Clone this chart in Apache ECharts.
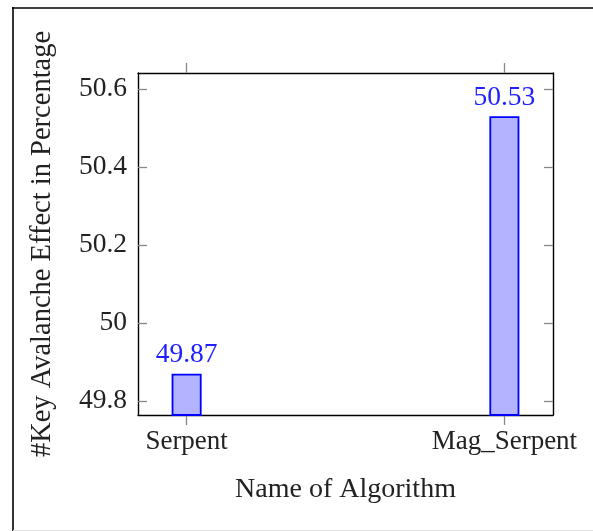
<!DOCTYPE html>
<html>
<head>
<meta charset="utf-8">
<script src="https://cdn.jsdelivr.net/npm/echarts@6/dist/echarts.min.js"></script>
<style>
html,body{margin:0;padding:0;background:#fff;}
#chart{width:593px;height:531px;}
</style>
</head>
<body>
<div id="chart"></div>
<script>
const categories = ['Serpent', 'Mag_Serpent'];
const values = [49.87, 50.53];
const yTicks = [49.8, 50, 50.2, 50.4, 50.6];
const xPositions = [0, 1];

const FONT = 'Liberation Serif';
const chart = echarts.init(document.getElementById('chart'), null, {renderer: 'canvas'});

const xMin = -0.153, xMax = 1.153;
const yMin = 49.764, yMax = 50.641;

const option = {
  backgroundColor: '#fff',
  animation: false,
  graphic: [
    {type: 'line', shape: {x1: 13, y1: 7, x2: 13, y2: 531}, style: {stroke: '#000', lineWidth: 1.6}},
    {type: 'line', shape: {x1: 12, y1: 8, x2: 593, y2: 8}, style: {stroke: '#000', lineWidth: 1.6}},
    {type: 'line', shape: {x1: 13, y1: 530.5, x2: 593, y2: 530.5}, style: {stroke: '#ddd', lineWidth: 1}}
  ],
  grid: {left: 138, top: 73, right: 40, bottom: 116, containLabel: false, outerBoundsMode: 'none'},
  xAxis: [
    {
      type: 'value', position: 'bottom', min: xMin, max: xMax,
      name: 'Name of Algorithm', nameLocation: 'middle', nameGap: 61,
      nameTextStyle: {fontFamily: FONT, fontSize: 28, color: '#222'},
      axisLine: {show: true, onZero: false, lineStyle: {color: '#000', width: 1.4}},
      axisTick: {show: true, inside: false, length: 10, customValues: xPositions, lineStyle: {color: '#888', width: 1.3}},
      axisLabel: {show: true, customValues: xPositions, margin: 13, fontFamily: FONT, fontSize: 27, color: '#222',
        formatter: function (v) { const i = xPositions.indexOf(v); return i >= 0 ? categories[i] : ''; }},
      splitLine: {show: false}
    },
    {
      type: 'value', position: 'top', min: xMin, max: xMax,
      axisLine: {show: true, onZero: false, lineStyle: {color: '#000', width: 1.4}},
      axisTick: {show: true, inside: false, length: 10, customValues: xPositions, lineStyle: {color: '#888', width: 1.3}},
      axisLabel: {show: false},
      splitLine: {show: false}
    }
  ],
  yAxis: [
    {
      type: 'value', position: 'left', min: yMin, max: yMax,
      name: '#Key Avalanche Effect in Percentage', nameLocation: 'middle', nameGap: 81, nameRotate: 90,
      nameTextStyle: {fontFamily: FONT, fontSize: 28.5, color: '#222'},
      axisLine: {show: true, onZero: false, lineStyle: {color: '#000', width: 1.4}},
      axisTick: {show: true, inside: true, length: 9, customValues: yTicks, lineStyle: {color: '#888', width: 1.3}},
      axisLabel: {show: true, customValues: yTicks, margin: 11, fontFamily: FONT, fontSize: 27.5, color: '#222',
        formatter: function (v) { return String(Math.round(v * 10) / 10); }},
      splitLine: {show: false}
    },
    {
      type: 'value', position: 'right', min: yMin, max: yMax,
      axisLine: {show: true, onZero: false, lineStyle: {color: '#000', width: 1.4}},
      axisTick: {show: true, inside: true, length: 9, customValues: yTicks, lineStyle: {color: '#888', width: 1.3}},
      axisLabel: {show: false},
      splitLine: {show: false}
    }
  ],
  series: [
    {
      type: 'bar',
      xAxisIndex: 0, yAxisIndex: 0,
      barWidth: 30,
      data: values.map((v, i) => [xPositions[i], v]),
      itemStyle: {color: '#b3b3ff', borderColor: '#0000ff', borderWidth: 1.8},
      label: {show: true, position: 'top', distance: 5, fontFamily: FONT, fontSize: 27.5, color: '#2020ff',
        formatter: function (p) { return p.value[1].toFixed(2); }}
    }
  ]
};
chart.setOption(option);
</script>
</body>
</html>
